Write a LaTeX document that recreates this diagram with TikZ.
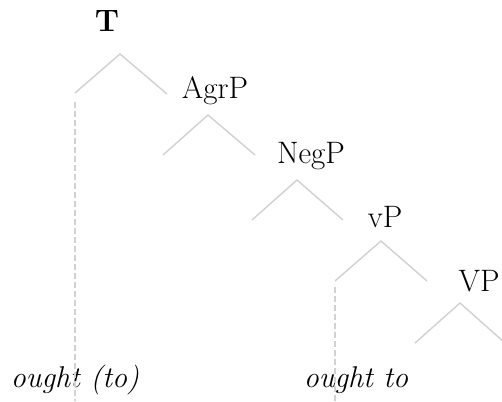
\documentclass[tikz,border=0pt]{standalone}
\begin{document}
\begin{tikzpicture}[x=1pt,y=-1pt,
  lbl/.style={inner sep=0pt,anchor=base,font=\fontsize{31}{36}\selectfont},
  wrd/.style={inner sep=0pt,anchor=base,font=\fontsize{30}{35}\selectfont\itshape},
  branch/.style={draw=black!18,line width=1.4pt},
  trace/.style={draw=black!18,line width=1.4pt,dash pattern=on 6pt off 3pt}]
\useasboundingbox (0,0) rectangle (502,401);
% labels
\node[lbl] (T) at (107,32) {\bfseries T};
\node[lbl] (AgrP) at (215,98) {AgrP};
\node[lbl] (NegP) at (311,163) {NegP};
\node[lbl] (vP) at (385,227) {vP};
\node[lbl] (VP) at (479,291) {VP};
\node[wrd] (w1) at (75,387) {ought (to)};
\node[wrd] (w2) at (356,387) {ought to};
% branch points
\coordinate (pT) at (120,54);
\coordinate (lT) at (75,93);
\coordinate (rT) at (167,94);
\coordinate (pA) at (208,115);
\coordinate (lA) at (163,155);
\coordinate (rA) at (255,155);
\coordinate (pN) at (297,180);
\coordinate (lN) at (252,220);
\coordinate (rN) at (343,220);
\coordinate (pv) at (381,241);
\coordinate (lv) at (335,281);
\coordinate (rv) at (427,281);
\coordinate (pV) at (460,303);
\coordinate (lV) at (415,343);
\coordinate (rV) at (505,343);
\coordinate (d1a) at (75,102);
\coordinate (d1b) at (75,401);
\coordinate (d2a) at (335,287);
\coordinate (d2b) at (335,401);
% branches
\draw[branch] (lT) -- (pT) -- (rT);
\draw[branch] (lA) -- (pA) -- (rA);
\draw[branch] (lN) -- (pN) -- (rN);
\draw[branch] (lv) -- (pv) -- (rv);
\draw[branch] (lV) -- (pV) -- (rV);
% traces
\draw[trace] (d1a) -- (d1b);
\draw[trace] (d2a) -- (d2b);
\end{tikzpicture}
\end{document}
